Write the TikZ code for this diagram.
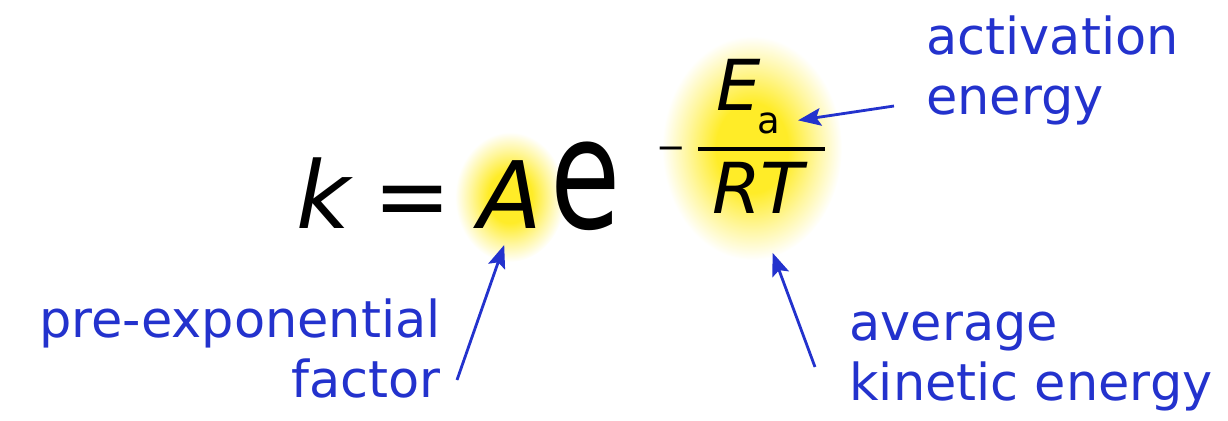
\documentclass[tikz,border=0pt]{standalone}
\usepackage{fontspec}
\setmainfont{DejaVu Sans}
\usepackage{tikz}
\usetikzlibrary{arrows.meta,positioning}
\definecolor{labelblue}{RGB}{35,50,205}
\definecolor{glowyellow}{RGB}{255,236,40}
\pgfdeclareradialshading{glow}{\pgfpoint{0bp}{0bp}}{color(0bp)=(glowyellow);color(10bp)=(glowyellow);color(18bp)=(glowyellow!45!white);color(25bp)=(white);color(50bp)=(white)}
\tikzset{
  eq/.style={inner sep=0pt, anchor=base, font=\fontsize{53}{60}\selectfont},
  frac/.style={inner sep=0pt, anchor=base, font=\fontsize{40}{46}\selectfont\itshape},
  small/.style={inner sep=0pt, anchor=base, font=\fontsize{21}{24}\selectfont},
  lbl/.style={inner sep=0pt, text=labelblue, font=\fontsize{29}{34}\selectfont},
  pointer/.style={-{Stealth[length=13pt,width=10pt,inset=2.5pt]}, draw=labelblue, line width=1.6pt},
  halo/.style={shading=glow}
}

\begin{document}
\begin{tikzpicture}[x=0.02cm, y=-0.02cm]
\useasboundingbox (0,0) rectangle (1228,420);
\shade[halo] (510,197) ellipse [x radius=55, y radius=65];
\shade[halo] (752,148) ellipse [x radius=90, y radius=112];
\node[eq] (k) at (323,228) {\itshape k};
\node[eq] (eqsign) at (413,228) {=};
\node[eq] (A) at (510,228) {\itshape A};
\node[eq, font=\fontsize{88}{90}\selectfont] (e) at (586,228) {\scalebox{0.74}[1]{e}};
\node[small, font=\fontsize{20}{22}\selectfont] (minus) at (671,159) {−};
\node[frac] (E) at (739,110) {E};
\node[small] (asub) at (769,133) {a};
\node[frac] (RT) at (758,213) {RT};
\draw[line width=2.3pt] (698,149) -- (825,149);
\node[lbl, anchor=base west, align=left] (act) at (926,114) {activation\\energy};
\node[lbl, anchor=base east, align=right] (pre) at (441,397) {pre-exponential\\factor};
\node[lbl, anchor=base west, align=left] (kin) at (849,400) {average\\kinetic energy};
\coordinate (preTail) at (457,380);
\coordinate (kinTail) at (815,367);
\coordinate (actTail) at (894,106);
\draw[pointer, shorten >=10pt] (preTail) -- (A.south);
\draw[pointer, shorten >=24pt] (kinTail) -- (RT.south);
\draw[pointer, shorten >=10pt] (actTail) -- (asub.east);
\end{tikzpicture}
\end{document}
